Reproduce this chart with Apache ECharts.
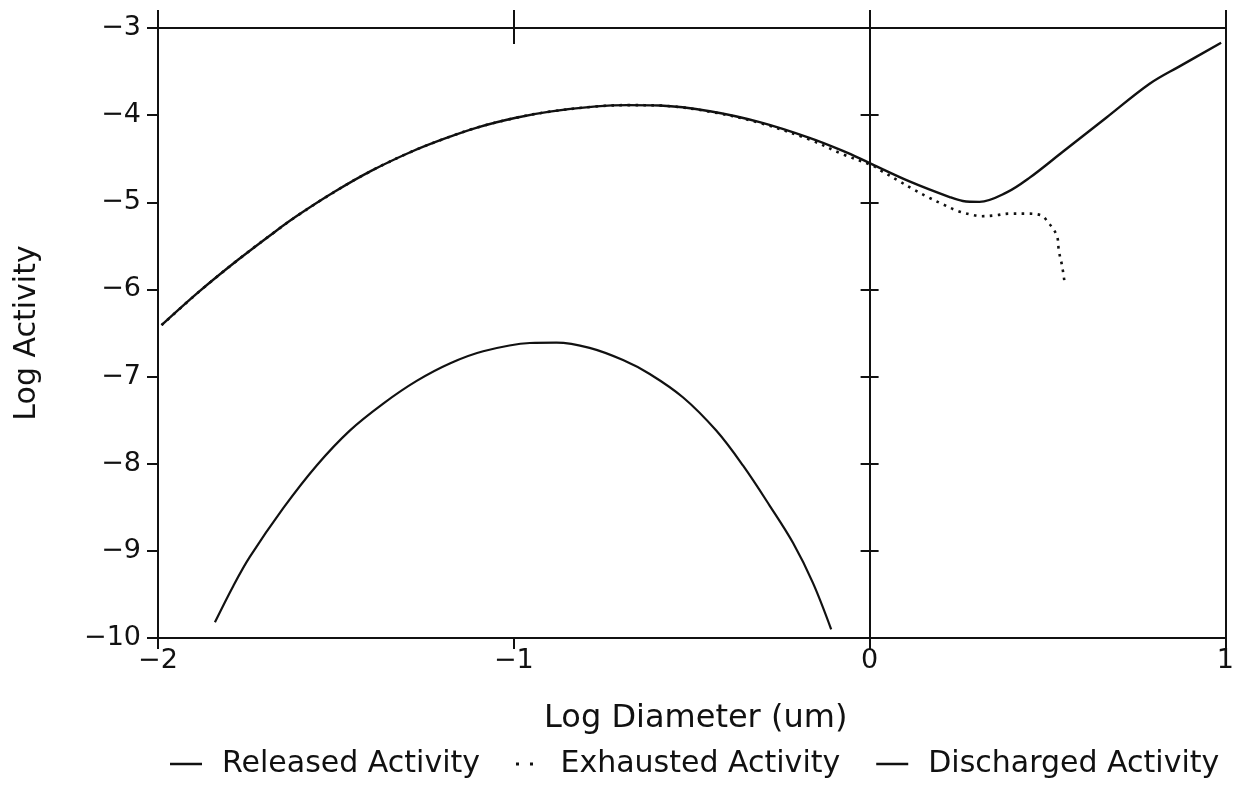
<!DOCTYPE html>
<html>
<head>
<meta charset="utf-8">
<title>Log Activity vs Log Diameter</title>
<script src="https://cdn.jsdelivr.net/npm/echarts@6/dist/echarts.min.js"></script>
<style>
  html, body { margin: 0; padding: 0; background: #fff; }
  #chart { width: 1237px; height: 785px; }
</style>
</head>
<body>
<div id="chart"></div>
<script>
// Log diameter (um) values and log activity for each curve
const releasedX = [-1.99, -1.883, -1.775, -1.672, -1.607, -1.504, -1.401, -1.288, -1.195, -1.101,
  -0.994, -0.899, -0.768, -0.68, -0.59, -0.449, -0.309, -0.169, -0.075, 0.0,
  0.112, 0.225, 0.262, 0.309, 0.384, 0.449, 0.543, 0.665, 0.787, 0.871, 0.988];
const releasedY = [-6.41, -6.02, -5.66, -5.34, -5.15, -4.88, -4.64, -4.42, -4.27, -4.14,
  -4.03, -3.96, -3.90, -3.885, -3.89, -3.955, -4.08, -4.26, -4.41, -4.55,
  -4.76, -4.94, -4.985, -4.995, -4.89, -4.72, -4.42, -4.03, -3.64, -3.44, -3.17];

const exhaustedX = [-1.99, -1.883, -1.775, -1.672, -1.607, -1.504, -1.401, -1.288, -1.195, -1.101,
  -0.994, -0.899, -0.768, -0.68, -0.59, -0.449, -0.309, -0.169, -0.075, 0.009,
  0.033, 0.08, 0.122, 0.164, 0.204, 0.248, 0.29, 0.313, 0.353, 0.393,
  0.44, 0.482, 0.5, 0.526, 0.532, 0.541, 0.548];
const exhaustedY = [-6.41, -6.02, -5.66, -5.34, -5.15, -4.88, -4.64, -4.42, -4.27, -4.14,
  -4.03, -3.96, -3.90, -3.885, -3.89, -3.96, -4.09, -4.28, -4.45, -4.58,
  -4.64, -4.75, -4.85, -4.94, -5.02, -5.10, -5.145, -5.16, -5.15, -5.13,
  -5.13, -5.15, -5.22, -5.38, -5.56, -5.73, -5.92];

const dischargedX = [-1.84, -1.788, -1.742, -1.648, -1.554, -1.461, -1.367, -1.273, -1.18, -1.086,
  -0.955, -0.88, -0.787, -0.693, -0.618, -0.524, -0.431, -0.356, -0.281, -0.215,
  -0.159, -0.108];
const dischargedY = [-9.82, -9.40, -9.07, -8.51, -8.02, -7.62, -7.31, -7.05, -6.85, -6.71,
  -6.615, -6.61, -6.67, -6.81, -6.97, -7.24, -7.62, -8.02, -8.48, -8.91,
  -9.37, -9.90];

const seriesNames = ['Released Activity', 'Exhausted Activity', 'Discharged Activity'];

// Axis tick values and their printed labels
const xTicks = [-2, -1, 0, 1];
const xTickLabels = ['\u22122', '\u22121', '0', '1'];
const yTicks = [-10, -9, -8, -7, -6, -5, -4, -3];
const yTickLabels = ['\u221210', '\u22129', '\u22128', '\u22127', '\u22126', '\u22125', '\u22124', '\u22123'];

const ink = '#111';
const font = 'DejaVu Sans';

function pairs(xs, ys) { return xs.map((x, i) => [x, ys[i]]); }
function lookup(ticks, labels) {
  return v => { const i = ticks.findIndex(t => Math.abs(t - v) < 1e-9); return i >= 0 ? labels[i] : ''; };
}

const hiddenLabel = { show: false };
const lineStyle = { color: ink, width: 2 };

const chart = echarts.init(document.getElementById('chart'), null, { renderer: 'canvas' });
chart.setOption({
  backgroundColor: '#fff',
  animation: false,
  textStyle: { fontFamily: font, color: ink },
  grid: { left: 158, right: 10, top: 28, bottom: 147, show: false },
  legend: {
    bottom: 1,
    left: 165,
    itemWidth: 32,
    itemHeight: 3,
    itemGap: 36,
    selectedMode: false,
    textStyle: { fontFamily: font, fontSize: 30, color: ink, padding: [0, 0, 0, 15] },
    data: [
      { name: seriesNames[0], icon: 'path://M0,0H32V2.5H0Z', itemStyle: { color: ink } },
      { name: seriesNames[1], icon: 'path://M0,0H3V3H0Z M14,0H17V3H14Z', itemStyle: { color: ink } },
      { name: seriesNames[2], icon: 'path://M0,0H32V2.5H0Z', itemStyle: { color: ink } }
    ]
  },
  xAxis: [
    {
      type: 'value', position: 'bottom', min: -2, max: 1, interval: 1,
      axisLine: { onZero: false, lineStyle },
      axisTick: { length: 11, lineStyle },
      axisLabel: { fontSize: 27, color: ink, fontFamily: font, margin: 9, formatter: lookup(xTicks, xTickLabels) },
      splitLine: { show: false },
      name: 'Log Diameter (um)', nameLocation: 'middle', nameGap: 65,
      nameTextStyle: { fontSize: 32, color: ink, fontFamily: font, padding: [0, 0, 0, 8] }
    },
    {
      type: 'value', position: 'top', min: -2, max: 1, interval: 1,
      axisLine: { onZero: false, lineStyle },
      axisTick: { inside: true, length: 16, lineStyle },
      axisLabel: hiddenLabel, splitLine: { show: false }
    },
    {
      type: 'value', position: 'top', min: -2, max: 1, interval: 1,
      axisLine: { onZero: false, lineStyle },
      axisTick: { inside: false, length: 18, lineStyle },
      axisLabel: hiddenLabel, splitLine: { show: false }
    }
  ],
  yAxis: [
    {
      type: 'value', position: 'left', min: -10, max: -3, interval: 1,
      axisLine: { onZero: false, lineStyle },
      axisTick: { length: 11, lineStyle },
      axisLabel: { fontSize: 27, color: ink, fontFamily: font, margin: 17, formatter: lookup(yTicks, yTickLabels) },
      splitLine: { show: false },
      name: 'Log Activity', nameLocation: 'middle', nameGap: 116,
      nameTextStyle: { fontSize: 30, color: ink, fontFamily: font }
    },
    {
      // divider line at Log Diameter = 0, ticks to the right
      type: 'value', position: 'left', min: -10, max: -3, interval: 1,
      axisLine: { onZero: true, onZeroAxisIndex: 0, lineStyle },
      axisTick: { inside: true, length: 9, lineStyle },
      axisLabel: hiddenLabel, splitLine: { show: false }
    },
    {
      // divider line at Log Diameter = 0, ticks to the left
      type: 'value', position: 'left', min: -10, max: -3, interval: 1,
      axisLine: { onZero: true, onZeroAxisIndex: 0, lineStyle },
      axisTick: { inside: false, length: 9, lineStyle },
      axisLabel: hiddenLabel, splitLine: { show: false }
    },
    {
      type: 'value', position: 'right', min: -10, max: -3, interval: 1,
      axisLine: { onZero: false, lineStyle },
      axisTick: { show: false },
      axisLabel: hiddenLabel, splitLine: { show: false }
    }
  ],
  series: [
    {
      name: seriesNames[0], type: 'line', xAxisIndex: 0, yAxisIndex: 0,
      data: pairs(releasedX, releasedY), showSymbol: false, smooth: 0.35,
      lineStyle: { color: ink, width: 2.4 }, itemStyle: { color: ink }, z: 3
    },
    {
      name: seriesNames[1], type: 'line', xAxisIndex: 0, yAxisIndex: 0,
      data: pairs(exhaustedX, exhaustedY), showSymbol: false, smooth: 0.35,
      lineStyle: { color: ink, width: 2.6, type: [2.6, 5.4] }, itemStyle: { color: ink }, z: 2
    },
    {
      name: seriesNames[2], type: 'line', xAxisIndex: 0, yAxisIndex: 0,
      data: pairs(dischargedX, dischargedY), showSymbol: false, smooth: 0.35,
      lineStyle: { color: ink, width: 2.2 }, itemStyle: { color: ink }, z: 3
    }
  ]
});
</script>
</body>
</html>
